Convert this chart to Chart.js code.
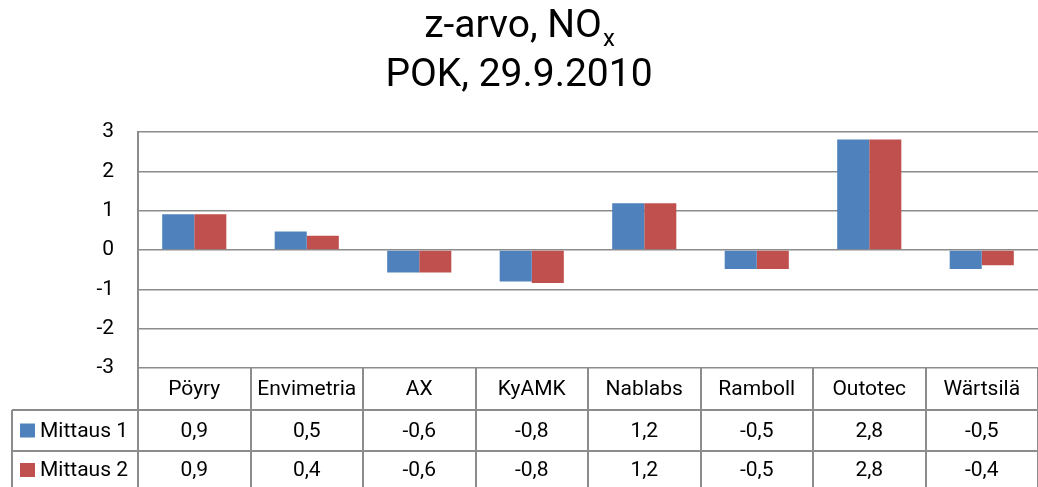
<!DOCTYPE html>
<html>
<head>
<meta charset="utf-8">
<script src="https://cdn.jsdelivr.net/npm/chart.js@4/dist/chart.umd.min.js"></script>
<style>
  html, body { margin: 0; padding: 0; background: #fff; }
  #wrap { width: 1038px; height: 487px; }
</style>
</head>
<body>
<div id="wrap"><canvas id="chart" width="1038" height="487"></canvas></div>
<script>
// data
const categories = ["Pöyry", "Envimetria", "AX", "KyAMK", "Nablabs", "Ramboll", "Outotec", "Wärtsilä"];
const seriesNames = ["Mittaus 1", "Mittaus 2"];
const mittaus1 = [0.91, 0.47, -0.57, -0.80, 1.19, -0.48, 2.81, -0.48];
const mittaus2 = [0.91, 0.36, -0.57, -0.84, 1.19, -0.48, 2.81, -0.39];
const yTicks = [-3, -2, -1, 0, 1, 2, 3];

const colors = ["#4F81BD", "#C0504D"];
const lineColor = "#8c8c8c";
const font = "Roboto, 'Open Sans', sans-serif";

const fmt = (v) => v.toFixed(1).replace(".", ",");

// title with subscript x
const titlePlugin = {
    id: "title2",
    afterDraw(chart) {
        const ctx = chart.ctx;
        const cx = chart.width / 2;
        ctx.save();
        ctx.fillStyle = "#000";
        ctx.textBaseline = "alphabetic";
        ctx.font = "39px " + font;
        const main = "z-arvo, NO";
        const w1 = ctx.measureText(main).width;
        ctx.font = "24px " + font;
        const w2 = ctx.measureText("x").width;
        let x = cx - (w1 + w2) / 2;
        ctx.textAlign = "left";
        ctx.font = "39px " + font;
        ctx.fillText(main, x, 37);
        ctx.font = "24px " + font;
        ctx.fillText("x", x + w1 + 1, 46);
        ctx.font = "39px " + font;
        ctx.textAlign = "center";
        ctx.fillText("POK, 29.9.2010", cx, 86);
        ctx.restore();
    }
};

// data table below the plot
const tablePlugin = {
    id: "dataTable",
    afterDraw(chart) {
        const ctx = chart.ctx;
        const area = chart.chartArea;
        const xs = chart.scales.x;
        const n = categories.length;
        const colW = (area.right - area.left) / n;
        const top = area.bottom;
        const row1 = 410, row2 = 451, bottom = chart.height;
        const tableLeft = 12;

        ctx.save();
        ctx.strokeStyle = lineColor;
        ctx.lineWidth = 2;
        ctx.beginPath();
        // vertical lines
        for (let i = 0; i <= n; i++) {
            const x = Math.round(area.left + i * colW);
            ctx.moveTo(x, top);
            ctx.lineTo(x, bottom);
        }
        ctx.moveTo(tableLeft, row1);
        ctx.lineTo(tableLeft, bottom);
        // horizontal lines
        ctx.moveTo(tableLeft, row1);
        ctx.lineTo(area.right, row1);
        ctx.moveTo(tableLeft, row2);
        ctx.lineTo(area.right, row2);
        ctx.stroke();

        ctx.fillStyle = "#000";
        ctx.font = "21px " + font;
        ctx.textAlign = "center";
        ctx.textBaseline = "middle";
        const rows = [mittaus1, mittaus2];
        categories.forEach((c, i) => {
            const x = xs.getPixelForValue(i);
            ctx.fillText(c, x, (top + row1) / 2 + 1);
            ctx.fillText(fmt(rows[0][i]), x, (row1 + row2) / 2 + 1);
            ctx.fillText(fmt(rows[1][i]), x, (row2 + bottom) / 2 + 2);
        });

        // legend keys
        ctx.textAlign = "left";
        const ys = [(row1 + row2) / 2, (row2 + bottom) / 2];
        seriesNames.forEach((s, k) => {
            ctx.fillStyle = colors[k];
            ctx.fillRect(20, ys[k] - 7 + k, 15, 14);
            ctx.fillStyle = "#000";
            ctx.fillText(s, 40, ys[k] + 1 + k);
        });
        ctx.restore();
    }
};

new Chart(document.getElementById("chart"), {
    type: "bar",
    data: {
        labels: categories,
        datasets: [
            { label: seriesNames[0], data: mittaus1, backgroundColor: colors[0] },
            { label: seriesNames[1], data: mittaus2, backgroundColor: colors[1] },
        ],
    },
    options: {
        responsive: false,
        animation: false,
        devicePixelRatio: 1,
        layout: { padding: { top: 132, bottom: 119, left: 0, right: 0 } },
        categoryPercentage: 0.57,
        barPercentage: 1.0,
        plugins: {
            legend: { display: false },
            title: { display: false },
            tooltip: { enabled: false },
        },
        scales: {
            x: { display: false },
            y: {
                min: -3,
                max: 3,
                afterBuildTicks: (scale) => {
                    scale.ticks = yTicks.map((v) => ({ value: v }));
                },
                afterFit: (scale) => { scale.width = 138; },
                ticks: {
                    color: "#000",
                    font: { family: font, size: 21 },
                    padding: 24,
                },
                grid: { color: lineColor, lineWidth: 1.5, drawTicks: false },
                border: { color: lineColor, width: 2 },
            },
        },
    },
    plugins: [titlePlugin, tablePlugin],
});
</script>
</body>
</html>
